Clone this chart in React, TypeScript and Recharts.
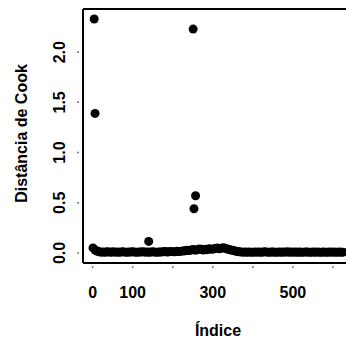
import { ScatterChart, Scatter, XAxis, YAxis, ReferenceLine, Label } from 'recharts';

// Cook's distance for the bulk of observations, one value every BAND_STEP indices starting at 1
const BAND_STEP = 5;
const bandCook = [
  0.05, 0.03, 0.02, 0.012, 0.008, 0.01, 0.006, 0.012, 0.009, 0.007,
  0.011, 0.008, 0.01, 0.006, 0.009, 0.012, 0.008, 0.007, 0.01, 0.009,
  0.011, 0.008, 0.006, 0.01, 0.009, 0.012, 0.008, 0.01, 0.007, 0.009,
  0.011, 0.008, 0.006, 0.01, 0.009, 0.012, 0.014, 0.01, 0.012, 0.015,
  0.013, 0.011, 0.016, 0.014, 0.018, 0.02, 0.022, 0.028, 0.025, 0.03,
  0.035, 0.028, 0.032, 0.04, 0.036, 0.03, 0.038, 0.033, 0.042, 0.036,
  0.04, 0.045, 0.05, 0.042, 0.046, 0.052, 0.048, 0.04, 0.035, 0.03,
  0.025, 0.02, 0.015, 0.012, 0.01, 0.008, 0.009, 0.007, 0.01, 0.008,
  0.006, 0.009, 0.008, 0.01, 0.007, 0.009, 0.011, 0.008, 0.006, 0.01,
  0.009, 0.007, 0.008, 0.01, 0.006, 0.009, 0.008, 0.011, 0.007, 0.009,
  0.008, 0.01, 0.006, 0.009, 0.007, 0.008, 0.01, 0.009, 0.006, 0.008,
  0.009, 0.007, 0.01, 0.008, 0.006, 0.009, 0.008, 0.007, 0.01, 0.008,
  0.009, 0.007, 0.008, 0.01, 0.006, 0.008,
];

// influential observations
const outlierIndex = [4, 6, 140, 251, 253, 257];
const outlierCook = [2.33, 1.39, 0.115, 2.23, 0.44, 0.57];

const xTicks = [0, 100, 200, 300, 400, 500, 600];
const xTickLabels = ['0', '100', '300', '500'];
const yTicks = [0, 0.5, 1, 1.5, 2];
const yTickLabels = ['0.0', '0.5', '1.0', '1.5', '2.0'];

const X_DOMAIN: [number, number] = [-24, 650];
const Y_DOMAIN: [number, number] = [-0.1, 2.43];

const FONT = '"Liberation Sans", Arial, Helvetica, sans-serif';

const points = [
  ...bandCook.map((cook, i) => ({ index: 1 + i * BAND_STEP, cook })),
  ...outlierIndex.map((index, i) => ({ index, cook: outlierCook[i] })),
];

function XTick({ x, y, payload }: any) {
  const text = String(payload.value);
  return (
    <g>
      <line x1={x} x2={x} y1={y + 3} y2={y + 5} stroke="#777" strokeWidth={1.5} />
      {xTickLabels.includes(text) && (
        <text x={x} y={y + 35} textAnchor="middle" fontFamily={FONT} fontWeight="bold" fontSize={16} fill="#000">
          {text}
        </text>
      )}
    </g>
  );
}

function YTick({ x, y, payload }: any) {
  const text = yTickLabels[yTicks.indexOf(payload.value)];
  const tx = x - 18;
  return (
    <g>
      <line x1={x - 6} x2={x - 4} y1={y} y2={y} stroke="#777" strokeWidth={1.5} />
      <text x={tx} y={y} transform={`rotate(-90 ${tx} ${y})`} textAnchor="middle" fontFamily={FONT} fontWeight="bold" fontSize={16} fill="#000">
        {text}
      </text>
    </g>
  );
}

const Dot = (props: any) => <circle cx={props.cx} cy={props.cy} r={4.5} fill="#000" />;

const boxLine = { stroke: '#000', strokeWidth: 2 };

export default function App() {
  return (
    <div style={{ position: 'absolute', left: 0, top: 0, width: 346, height: 343, overflow: 'hidden', background: '#fff' }}>
      <ScatterChart width={360} height={343} margin={{ top: 9, right: 7, left: 0, bottom: 0 }}>
        <XAxis
          type="number"
          dataKey="index"
          domain={X_DOMAIN}
          ticks={xTicks}
          allowDataOverflow
          axisLine={boxLine}
          tickLine={false}
          tickSize={0}
          tickMargin={0}
          height={80}
          tick={<XTick />}
        >
          <Label
            content={() => (
              <text x={218} y={336} textAnchor="middle" fontFamily={FONT} fontWeight="bold" fontSize={16} fill="#000">
                Índice
              </text>
            )}
          />
        </XAxis>
        <YAxis
          type="number"
          dataKey="cook"
          domain={Y_DOMAIN}
          ticks={yTicks}
          allowDataOverflow
          axisLine={boxLine}
          tickLine={false}
          tickSize={0}
          tickMargin={0}
          width={83}
          tick={<YTick />}
        >
          <Label
            content={() => (
              <text x={27} y={133.5} transform="rotate(-90 27 133.5)" textAnchor="middle" fontFamily={FONT} fontWeight="bold" fontSize={16} fill="#000">
                Distância de Cook
              </text>
            )}
          />
        </YAxis>
        <ReferenceLine y={Y_DOMAIN[1]} stroke="#000" strokeWidth={2} ifOverflow="visible" />
        <ReferenceLine x={X_DOMAIN[1]} stroke="#000" strokeWidth={2} ifOverflow="visible" />
        <Scatter data={points} shape={Dot} isAnimationActive={false} />
      </ScatterChart>
    </div>
  );
}
